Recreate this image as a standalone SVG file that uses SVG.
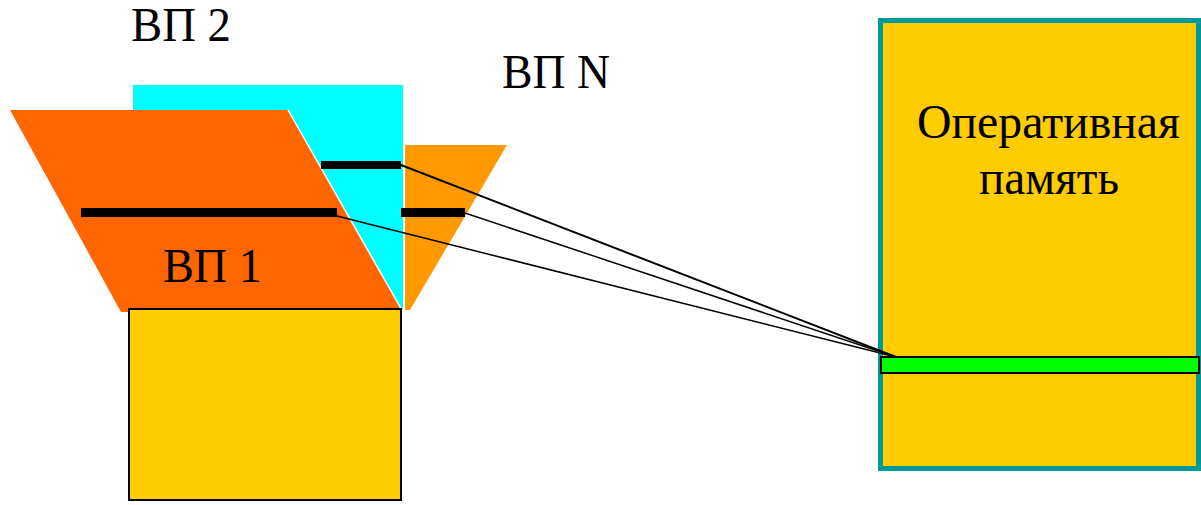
<svg xmlns="http://www.w3.org/2000/svg" width="1201" height="505" viewBox="0 0 1201 505">
<style>
text{font-family:"Liberation Serif","Times New Roman",Tinos,"Noto Serif","DejaVu Serif",serif;font-size:48px;fill:#000}
.bar{fill:#000}
.conn{stroke:#000;fill:none}
</style>
<rect width="1201" height="505" fill="#fff"/>
<g id="vp2">
<rect x="133" y="85" width="270" height="225" fill="#00FFFF"/>
<text x="131" y="41" textLength="100" lengthAdjust="spacingAndGlyphs">ВП 2</text>
</g>
<g id="vpN">
<polygon points="405,145 507,145 410,310 405,310" fill="#FF9900"/>
<line x1="404" y1="85" x2="404" y2="310" stroke="#fff" stroke-width="1.5"/>
<text x="502" y="88" textLength="108" lengthAdjust="spacingAndGlyphs">ВП N</text>
</g>
<g id="vp1">
<polygon points="10,110 288,110 403,312 121,312" fill="#FF6600"/>
<line x1="288" y1="110" x2="403" y2="312" stroke="#fff" stroke-width="1.5"/>
<text x="163" y="282" textLength="99" lengthAdjust="spacingAndGlyphs">ВП 1</text>
</g>
<g id="pages">
<rect class="bar" x="321" y="161" width="80" height="8"/>
<rect class="bar" x="81" y="208" width="256" height="9"/>
<rect class="bar" x="401" y="208" width="64" height="9"/>
</g>
<g id="box">
<rect x="129" y="309" width="272" height="191" fill="#FFCC00" stroke="#000" stroke-width="2"/>
</g>
<g id="ram">
<rect x="880.5" y="20.5" width="318" height="448" fill="#FFCC00" stroke="#009999" stroke-width="5"/>
<text x="917" y="138" textLength="263" lengthAdjust="spacingAndGlyphs">Оперативная</text>
<text x="979" y="194" textLength="140" lengthAdjust="spacingAndGlyphs">память</text>
<rect x="881" y="357" width="318" height="16" fill="#00FF00" stroke="#000" stroke-width="2"/>
</g>
<g id="connectors">
<line class="conn" x1="401" y1="165" x2="896" y2="357" stroke-width="2"/>
<line class="conn" x1="465" y1="213" x2="896" y2="357" stroke-width="1.5"/>
<line class="conn" x1="337" y1="216" x2="896" y2="357" stroke-width="1.5"/>
</g>
</svg>
